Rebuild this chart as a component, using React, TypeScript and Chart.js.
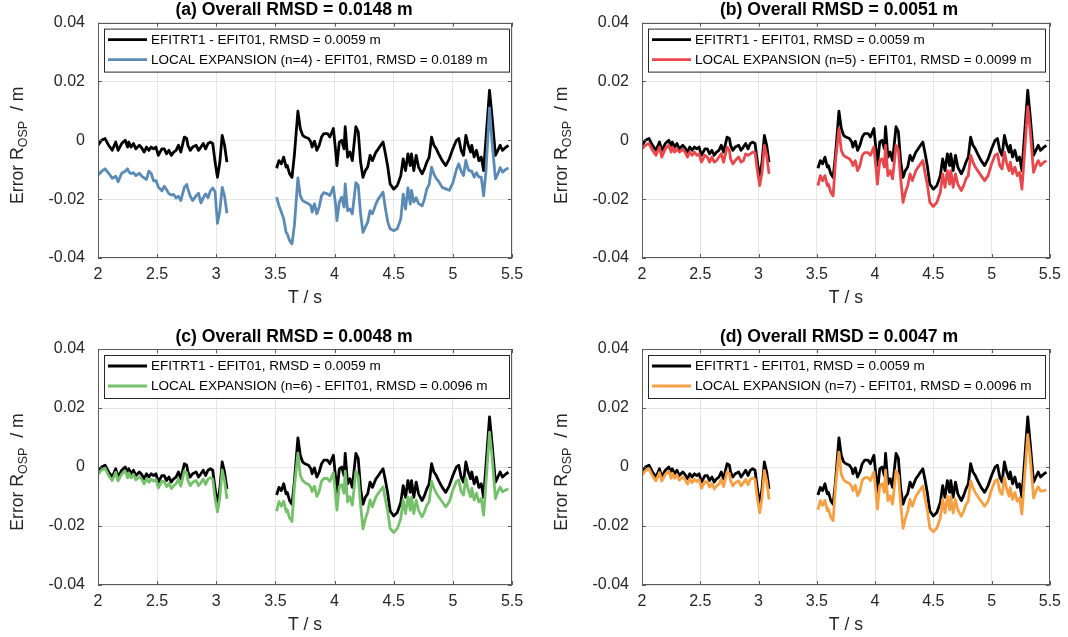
import React, { useEffect, useRef } from 'react';
import { Chart, registerables } from 'chart.js';
Chart.register(...registerables);

// ---------- DATA ----------
const T1 = [2.00, 2.03, 2.06, 2.09, 2.12, 2.15, 2.17, 2.20, 2.23, 2.25, 2.26, 2.28, 2.30, 2.32, 2.35, 2.37, 2.39, 2.41, 2.43, 2.45, 2.47, 2.49, 2.51, 2.54, 2.56, 2.58, 2.60, 2.62, 2.64, 2.66, 2.68, 2.70, 2.73, 2.75, 2.76, 2.78, 2.80, 2.83, 2.85, 2.87, 2.89, 2.91, 2.93, 2.95, 2.97, 2.99, 3.01, 3.03, 3.05, 3.07, 3.09];
const T2 = [3.51, 3.53, 3.55, 3.57, 3.59, 3.60, 3.62, 3.64, 3.66, 3.69, 3.71, 3.73, 3.75, 3.78, 3.80, 3.81, 3.83, 3.85, 3.87, 3.89, 3.91, 3.94, 3.96, 3.99, 4.01, 4.02, 4.04, 4.06, 4.08, 4.09, 4.11, 4.13, 4.15, 4.18, 4.20, 4.22, 4.24, 4.26, 4.28, 4.30, 4.32, 4.35, 4.37, 4.39, 4.41, 4.43, 4.45, 4.47, 4.50, 4.53, 4.56, 4.58, 4.60, 4.62, 4.64, 4.65, 4.67, 4.69, 4.71, 4.74, 4.76, 4.78, 4.80, 4.82, 4.84, 4.86, 4.88, 4.91, 4.94, 4.97, 5.00, 5.03, 5.05, 5.07, 5.09, 5.11, 5.13, 5.15, 5.16, 5.18, 5.20, 5.22, 5.24, 5.26, 5.28, 5.31, 5.33, 5.36, 5.38, 5.40, 5.42, 5.45, 5.47];
const GAP_T = 3.3;

const EFITRT1_S1 = [-0.0017, 0.0000, 0.0006, -0.0017, -0.0034, -0.0006, -0.0034, -0.0011, 0.0000, -0.0023, -0.0006, -0.0023, -0.0011, -0.0029, -0.0017, -0.0026, -0.0040, -0.0023, -0.0034, -0.0023, -0.0029, -0.0023, -0.0051, -0.0029, -0.0029, -0.0046, -0.0034, -0.0051, -0.0040, -0.0034, -0.0017, -0.0040, 0.0011, 0.0006, -0.0017, -0.0034, -0.0023, -0.0017, -0.0034, -0.0023, -0.0011, -0.0029, -0.0011, -0.0006, -0.0011, -0.0074, -0.0126, -0.0074, 0.0017, -0.0017, -0.0074];
const EFITRT1_S2 = [-0.0095, -0.0069, -0.0080, -0.0057, -0.0091, -0.0086, -0.0114, -0.0126, -0.0051, 0.0099, 0.0040, 0.0017, 0.0011, 0.0006, -0.0006, -0.0023, -0.0003, -0.0034, -0.0017, 0.0011, 0.0023, 0.0023, 0.0011, 0.0040, -0.0040, -0.0086, -0.0006, 0.0000, -0.0029, 0.0046, -0.0057, -0.0040, -0.0069, 0.0046, 0.0029, -0.0074, -0.0126, -0.0103, -0.0091, -0.0051, -0.0069, -0.0040, -0.0029, -0.0017, -0.0006, -0.0046, -0.0091, -0.0149, -0.0166, -0.0154, -0.0120, -0.0063, -0.0103, -0.0046, -0.0086, -0.0046, -0.0103, -0.0051, -0.0091, -0.0114, -0.0097, -0.0074, -0.0057, 0.0011, -0.0017, -0.0029, -0.0046, -0.0069, -0.0086, -0.0063, -0.0029, 0.0000, 0.0006, -0.0034, -0.0051, 0.0017, -0.0017, -0.0040, -0.0017, -0.0057, -0.0034, -0.0069, -0.0057, -0.0103, 0.0006, 0.0170, 0.0086, -0.0051, -0.0034, -0.0017, -0.0034, -0.0023, -0.0017];

const LE4_S1 = [-0.0119, -0.0106, -0.0097, -0.0112, -0.0129, -0.0122, -0.0141, -0.0112, -0.0105, -0.0097, -0.0107, -0.0113, -0.0110, -0.0120, -0.0112, -0.0122, -0.0128, -0.0133, -0.0105, -0.0113, -0.0138, -0.0137, -0.0158, -0.0172, -0.0156, -0.0168, -0.0182, -0.0186, -0.0184, -0.0196, -0.0190, -0.0205, -0.0160, -0.0150, -0.0165, -0.0190, -0.0205, -0.0188, -0.0180, -0.0213, -0.0195, -0.0182, -0.0195, -0.0172, -0.0162, -0.0175, -0.0282, -0.0240, -0.0160, -0.0190, -0.0248];
const LE4_S2 = [-0.0193, -0.0222, -0.0244, -0.0267, -0.0313, -0.0318, -0.0341, -0.0352, -0.0290, -0.0128, -0.0188, -0.0205, -0.0210, -0.0216, -0.0222, -0.0244, -0.0216, -0.0250, -0.0227, -0.0188, -0.0178, -0.0182, -0.0188, -0.0159, -0.0222, -0.0273, -0.0210, -0.0193, -0.0227, -0.0148, -0.0239, -0.0233, -0.0250, -0.0144, -0.0153, -0.0250, -0.0313, -0.0295, -0.0278, -0.0239, -0.0250, -0.0216, -0.0199, -0.0188, -0.0176, -0.0233, -0.0278, -0.0301, -0.0307, -0.0301, -0.0267, -0.0183, -0.0234, -0.0162, -0.0217, -0.0170, -0.0210, -0.0195, -0.0215, -0.0223, -0.0200, -0.0165, -0.0150, -0.0091, -0.0115, -0.0130, -0.0140, -0.0160, -0.0165, -0.0170, -0.0145, -0.0100, -0.0080, -0.0105, -0.0120, -0.0068, -0.0100, -0.0105, -0.0105, -0.0125, -0.0110, -0.0125, -0.0125, -0.0189, -0.0105, 0.0110, 0.0000, -0.0131, -0.0115, -0.0093, -0.0108, -0.0098, -0.0094];

const LE5_S1 = [-0.0029, -0.0017, -0.0011, -0.0034, -0.0051, -0.0023, -0.0057, -0.0029, -0.0017, -0.0040, -0.0023, -0.0040, -0.0029, -0.0040, -0.0031, -0.0040, -0.0057, -0.0040, -0.0051, -0.0040, -0.0051, -0.0046, -0.0074, -0.0051, -0.0057, -0.0074, -0.0057, -0.0074, -0.0069, -0.0057, -0.0046, -0.0074, -0.0023, -0.0034, -0.0063, -0.0080, -0.0069, -0.0057, -0.0074, -0.0069, -0.0046, -0.0051, -0.0046, -0.0040, -0.0042, -0.0103, -0.0154, -0.0109, -0.0017, -0.0051, -0.0114];
const LE5_S2 = [-0.0154, -0.0120, -0.0137, -0.0120, -0.0154, -0.0149, -0.0177, -0.0189, -0.0074, 0.0040, -0.0034, -0.0051, -0.0057, -0.0063, -0.0074, -0.0086, -0.0069, -0.0103, -0.0086, -0.0051, -0.0042, -0.0042, -0.0051, -0.0023, -0.0103, -0.0149, -0.0069, -0.0063, -0.0091, -0.0017, -0.0120, -0.0103, -0.0131, -0.0017, -0.0034, -0.0131, -0.0211, -0.0177, -0.0154, -0.0114, -0.0137, -0.0103, -0.0091, -0.0080, -0.0069, -0.0114, -0.0154, -0.0211, -0.0225, -0.0211, -0.0177, -0.0114, -0.0160, -0.0103, -0.0149, -0.0103, -0.0160, -0.0114, -0.0149, -0.0171, -0.0154, -0.0131, -0.0120, -0.0051, -0.0074, -0.0091, -0.0103, -0.0120, -0.0137, -0.0120, -0.0080, -0.0051, -0.0046, -0.0086, -0.0097, -0.0040, -0.0080, -0.0103, -0.0074, -0.0114, -0.0091, -0.0120, -0.0109, -0.0166, -0.0057, 0.0114, 0.0040, -0.0109, -0.0086, -0.0069, -0.0086, -0.0074, -0.0069];

const LE6_S1 = [-0.0025, -0.0010, -0.0004, -0.0029, -0.0046, -0.0018, -0.0047, -0.0024, -0.0013, -0.0037, -0.0020, -0.0037, -0.0025, -0.0044, -0.0033, -0.0042, -0.0057, -0.0040, -0.0052, -0.0041, -0.0048, -0.0042, -0.0071, -0.0049, -0.0050, -0.0067, -0.0055, -0.0073, -0.0063, -0.0057, -0.0041, -0.0065, -0.0014, -0.0020, -0.0045, -0.0063, -0.0052, -0.0046, -0.0063, -0.0053, -0.0041, -0.0059, -0.0041, -0.0036, -0.0041, -0.0107, -0.0152, -0.0104, -0.0010, -0.0046, -0.0108];
const LE6_S2 = [-0.0150, -0.0117, -0.0133, -0.0116, -0.0151, -0.0145, -0.0173, -0.0185, -0.0070, 0.0047, -0.0028, -0.0046, -0.0053, -0.0059, -0.0070, -0.0083, -0.0065, -0.0100, -0.0083, -0.0048, -0.0039, -0.0039, -0.0049, -0.0020, -0.0100, -0.0146, -0.0066, -0.0060, -0.0089, -0.0014, -0.0118, -0.0101, -0.0129, -0.0015, -0.0032, -0.0129, -0.0210, -0.0176, -0.0152, -0.0112, -0.0135, -0.0101, -0.0089, -0.0078, -0.0067, -0.0112, -0.0152, -0.0209, -0.0222, -0.0209, -0.0175, -0.0112, -0.0158, -0.0101, -0.0147, -0.0101, -0.0158, -0.0112, -0.0147, -0.0169, -0.0152, -0.0129, -0.0118, -0.0049, -0.0072, -0.0089, -0.0101, -0.0118, -0.0135, -0.0118, -0.0078, -0.0049, -0.0044, -0.0084, -0.0095, -0.0038, -0.0078, -0.0101, -0.0072, -0.0112, -0.0089, -0.0118, -0.0107, -0.0163, -0.0054, 0.0118, 0.0042, -0.0107, -0.0084, -0.0068, -0.0084, -0.0077, -0.0074];

const LE7_S1 = [-0.0027, -0.0012, -0.0006, -0.0030, -0.0047, -0.0019, -0.0048, -0.0025, -0.0014, -0.0038, -0.0021, -0.0038, -0.0026, -0.0045, -0.0034, -0.0043, -0.0058, -0.0041, -0.0053, -0.0042, -0.0049, -0.0043, -0.0072, -0.0050, -0.0051, -0.0068, -0.0056, -0.0074, -0.0064, -0.0058, -0.0042, -0.0066, -0.0016, -0.0022, -0.0046, -0.0064, -0.0053, -0.0047, -0.0064, -0.0054, -0.0042, -0.0060, -0.0042, -0.0037, -0.0042, -0.0108, -0.0155, -0.0105, -0.0012, -0.0048, -0.0110];
const LE7_S2 = [-0.0145, -0.0114, -0.0130, -0.0113, -0.0148, -0.0142, -0.0170, -0.0182, -0.0068, 0.0050, -0.0025, -0.0043, -0.0050, -0.0056, -0.0067, -0.0080, -0.0062, -0.0097, -0.0080, -0.0045, -0.0036, -0.0036, -0.0046, -0.0017, -0.0097, -0.0143, -0.0063, -0.0057, -0.0086, -0.0011, -0.0115, -0.0098, -0.0126, -0.0012, -0.0029, -0.0126, -0.0208, -0.0174, -0.0150, -0.0110, -0.0133, -0.0099, -0.0087, -0.0076, -0.0065, -0.0110, -0.0150, -0.0207, -0.0220, -0.0207, -0.0173, -0.0110, -0.0156, -0.0099, -0.0145, -0.0099, -0.0156, -0.0110, -0.0145, -0.0167, -0.0150, -0.0127, -0.0116, -0.0047, -0.0070, -0.0087, -0.0099, -0.0116, -0.0133, -0.0116, -0.0076, -0.0047, -0.0042, -0.0082, -0.0093, -0.0036, -0.0076, -0.0099, -0.0070, -0.0110, -0.0087, -0.0116, -0.0105, -0.0160, -0.0052, 0.0110, 0.0038, -0.0105, -0.0082, -0.0067, -0.0082, -0.0080, -0.0078];

const X_TICKS = [2, 2.5, 3, 3.5, 4, 4.5, 5, 5.5];
const Y_TICKS = [-0.04, -0.02, 0, 0.02, 0.04];
const TITLES = ['(a) Overall RMSD = 0.0148 m', '(b) Overall RMSD = 0.0051 m', '(c) Overall RMSD = 0.0048 m', '(d) Overall RMSD = 0.0047 m'];
const LABEL_BLACK = 'EFITRT1 - EFIT01, RMSD = 0.0059 m';
const LABELS_LE = [
  'LOCAL EXPANSION (n=4) - EFIT01, RMSD = 0.0189 m',
  'LOCAL EXPANSION (n=5) - EFIT01, RMSD = 0.0099 m',
  'LOCAL EXPANSION (n=6) - EFIT01, RMSD = 0.0096 m',
  'LOCAL EXPANSION (n=7) - EFIT01, RMSD = 0.0096 m',
];
const LE_S1 = [LE4_S1, LE5_S1, LE6_S1, LE7_S1];
const LE_S2 = [LE4_S2, LE5_S2, LE6_S2, LE7_S2];
const COLORS = ['#5b8bb5', '#e8474b', '#75c06a', '#f7a043'];

// ---------- LAYOUT ----------
const FONT = '"Liberation Sans", Arial, Helvetica, sans-serif';
const AX = '#262626';
const PANELS = [
  { left: 0, top: 0, w: 534, h: 318, area: { l: 98, r: 512, t: 22, b: 258 }, titleX: 294, legPad: 21 },
  { left: 534, top: 0, w: 534, h: 318, area: { l: 108, r: 517, t: 22, b: 258 }, titleX: 305, legPad: 13 },
  { left: 0, top: 318, w: 534, h: 319, area: { l: 98, r: 512, t: 31, b: 267 }, titleX: 294, legPad: 21 },
  { left: 534, top: 318, w: 534, h: 319, area: { l: 108, r: 517, t: 31, b: 267 }, titleX: 305, legPad: 13 },
];

function toPoints(s1: number[], s2: number[]) {
  return [
    ...T1.map((t, i) => ({ x: t, y: s1[i] })),
    { x: GAP_T, y: null as any },
    ...T2.map((t, i) => ({ x: t, y: s2[i] })),
  ];
}

function makeDecor(idx: number) {
  const p = PANELS[idx];
  return {
    id: 'decor' + idx,
    afterDraw(chart: any) {
      const ctx: CanvasRenderingContext2D = chart.ctx;
      const ca = chart.chartArea;
      const xs = chart.scales.x;
      const ys = chart.scales.y;
      ctx.save();
      // box
      ctx.strokeStyle = '#5a5a5a';
      ctx.lineWidth = 1;
      ctx.strokeRect(Math.round(ca.left) + 0.5, Math.round(ca.top) + 0.5, Math.round(ca.right - ca.left) - 1, Math.round(ca.bottom - ca.top) - 1);
      // inward ticks
      ctx.beginPath();
      X_TICKS.forEach((v) => {
        const x = Math.round(xs.getPixelForValue(v)) + 0.5;
        ctx.moveTo(x, ca.bottom); ctx.lineTo(x, ca.bottom - 4);
        ctx.moveTo(x, ca.top); ctx.lineTo(x, ca.top + 4);
      });
      Y_TICKS.forEach((v) => {
        const y = Math.round(ys.getPixelForValue(v)) + 0.5;
        ctx.moveTo(ca.left, y); ctx.lineTo(ca.left + 4, y);
        ctx.moveTo(ca.right, y); ctx.lineTo(ca.right - 4, y);
      });
      ctx.stroke();

      // title
      ctx.fillStyle = '#000';
      ctx.font = 'bold 17.6px ' + FONT;
      ctx.textAlign = 'center';
      ctx.textBaseline = 'middle';
      ctx.fillText(TITLES[idx], p.titleX, ca.top - 12);

      // x label
      ctx.fillStyle = AX;
      ctx.font = '17.6px ' + FONT;
      ctx.fillText('T / s', (ca.left + ca.right) / 2, ca.bottom + 40);

      // y label with subscript
      ctx.save();
      ctx.translate(ca.left - 80, (ca.top + ca.bottom) / 2 + 5);
      ctx.rotate(-Math.PI / 2);
      ctx.textAlign = 'left';
      const big = '17.6px ' + FONT;
      const small = '12.5px ' + FONT;
      ctx.font = big; const w1 = ctx.measureText('Error R').width;
      ctx.font = small; const w2 = ctx.measureText('OSP').width;
      ctx.font = big; const w3 = ctx.measureText('  / m').width;
      let x0 = -(w1 + w2 + w3) / 2;
      ctx.font = big; ctx.fillText('Error R', x0, 0); x0 += w1;
      ctx.font = small; ctx.fillText('OSP', x0, 6); x0 += w2;
      ctx.font = big; ctx.fillText('  / m', x0, 0);
      ctx.restore();

      // legend
      const lx = ca.left + 6;
      const ly = ca.top + 6;
      ctx.font = '13.5px ' + FONT;
      const tw = Math.max(ctx.measureText(LABEL_BLACK).width, ctx.measureText(LABELS_LE[idx]).width);
      const bw = Math.round(47 + tw + p.legPad);
      const bh = 43;
      ctx.fillStyle = '#fff';
      ctx.fillRect(lx, ly, bw, bh);
      ctx.strokeStyle = AX;
      ctx.lineWidth = 1;
      ctx.strokeRect(lx + 0.5, ly + 0.5, bw, bh);
      const rows = [
        { y: ly + 11, color: '#000', text: LABEL_BLACK },
        { y: ly + 31, color: COLORS[idx], text: LABELS_LE[idx] },
      ];
      rows.forEach((r) => {
        ctx.strokeStyle = r.color;
        ctx.lineWidth = 2.8;
        ctx.beginPath();
        ctx.moveTo(lx + 4, r.y);
        ctx.lineTo(lx + 43, r.y);
        ctx.stroke();
        ctx.fillStyle = '#000';
        ctx.textAlign = 'left';
        ctx.textBaseline = 'middle';
        ctx.fillText(r.text, lx + 47, r.y + 0.5);
      });
      ctx.restore();
    },
  };
}

function Panel({ idx }: { idx: number }) {
  const ref = useRef<HTMLCanvasElement | null>(null);
  const p = PANELS[idx];
  useEffect(() => {
    if (!ref.current) return;
    const chart = new Chart(ref.current, {
      type: 'line',
      data: {
        datasets: [
          {
            label: LABELS_LE[idx],
            data: toPoints(LE_S1[idx], LE_S2[idx]),
            borderColor: COLORS[idx],
            borderWidth: 2.8,
            pointRadius: 0,
            tension: 0,
            spanGaps: false,
            order: 0,
            borderJoinStyle: 'round',
          },
          {
            label: LABEL_BLACK,
            data: toPoints(EFITRT1_S1, EFITRT1_S2),
            borderColor: '#000',
            borderWidth: 2.8,
            pointRadius: 0,
            tension: 0,
            spanGaps: false,
            order: 1,
            borderJoinStyle: 'round',
          },
        ],
      },
      options: {
        animation: false,
        responsive: false,
        maintainAspectRatio: false,
        layout: { padding: { left: 0, right: p.w - p.area.r, top: p.area.t, bottom: 0 } },
        plugins: { legend: { display: false }, title: { display: false }, tooltip: { enabled: false } },
        scales: {
          x: {
            type: 'linear',
            min: 2,
            max: 5.5,
            afterBuildTicks: (s: any) => { s.ticks = X_TICKS.map((v) => ({ value: v })); },
            afterFit: (s: any) => { s.height = p.h - p.area.b; },
            ticks: {
              padding: 7,
              color: AX,
              maxRotation: 0,
              autoSkip: false,
              font: { family: FONT, size: 16 },
              callback: (v: any) => String(v),
            },
            grid: { color: '#e6e6e6', drawTicks: false, lineWidth: 1 },
            border: { display: false },
          },
          y: {
            type: 'linear',
            min: -0.04,
            max: 0.04,
            afterBuildTicks: (s: any) => { s.ticks = Y_TICKS.map((v) => ({ value: v })); },
            afterFit: (s: any) => { s.width = p.area.l; },
            ticks: {
              padding: 13,
              color: AX,
              font: { family: FONT, size: 16 },
              callback: (v: any) => (Math.abs(v) < 1e-9 ? '0' : Number(v).toFixed(2)),
            },
            grid: { color: '#e6e6e6', drawTicks: false, lineWidth: 1 },
            border: { display: false },
          },
        },
      } as any,
      plugins: [makeDecor(idx)],
    });
    return () => chart.destroy();
  }, [idx]);
  return (
    <canvas
      ref={ref}
      width={p.w}
      height={p.h}
      style={{ position: 'absolute', left: p.left, top: p.top, width: p.w, height: p.h, display: 'block' }}
    />
  );
}

export default function App() {
  return (
    <div style={{ position: 'absolute', left: 0, top: 0, width: 1068, height: 637, background: '#fff', overflow: 'hidden' }}>
      {[0, 1, 2, 3].map((i) => (
        <Panel key={i} idx={i} />
      ))}
    </div>
  );
}
